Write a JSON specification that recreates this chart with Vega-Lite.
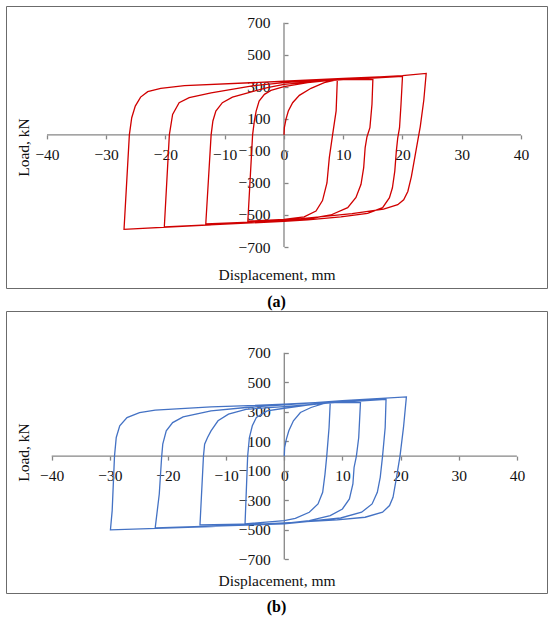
{
  "$schema": "https://vega.github.io/schema/vega-lite/v6.json",
  "padding": {"left": 5, "top": 5, "right": 4, "bottom": 4},
  "spacing": 23,
  "bounds": "flush",
  "config": {
    "font": "Liberation Serif",
    "view": {"stroke": "#6b6b6b", "strokeWidth": 1},
    "axis": {
      "grid": false,
      "domain": false,
      "labelFont": "Liberation Serif",
      "labelFontSize": 15.5,
      "labelColor": "#111111",
      "labelOverlap": false,
      "labelFlush": false,
      "titleFont": "Liberation Serif",
      "titleFontSize": 15.5,
      "titleFontWeight": "normal",
      "titleColor": "#111111",
      "tickColor": "#868686",
      "tickWidth": 1.3
    },
    "title": {"font": "Liberation Serif", "color": "#000000"}
  },
  "datasets": {
    "one": [{}],
    "a": [
      {"x": 0, "y": 0}, {"x": 0.06, "y": 45}, {"x": 0.34, "y": 98}, {"x": 0.73, "y": 149}, {"x": 1.46, "y": 201}, {"x": 2.59, "y": 247}, {"x": 4.56, "y": 291}, {"x": 6.8, "y": 326}, {"x": 9.0, "y": 345},
      {"x": 8.8, "y": 150}, {"x": 8.2, "y": 0}, {"x": 7.65, "y": -142}, {"x": 7.25, "y": -300}, {"x": 6.5, "y": -410}, {"x": 5.4, "y": -475}, {"x": 3.4, "y": -512}, {"x": 0, "y": -528}, {"x": -6.1, "y": -538},
      {"x": -5.3, "y": 0}, {"x": -5.0, "y": 87}, {"x": -4.7, "y": 149}, {"x": -4.2, "y": 211}, {"x": -3.3, "y": 253}, {"x": -2.2, "y": 278}, {"x": 0, "y": 302}, {"x": 4.0, "y": 326}, {"x": 9.0, "y": 345}, {"x": 15.0, "y": 345},
      {"x": 14.85, "y": 191}, {"x": 14.5, "y": 45}, {"x": 14.0, "y": -13}, {"x": 13.7, "y": -79}, {"x": 13.45, "y": -204}, {"x": 13.0, "y": -308}, {"x": 12.15, "y": -391}, {"x": 10.75, "y": -454}, {"x": 7.9, "y": -500}, {"x": 4.0, "y": -525}, {"x": 0, "y": -537}, {"x": -13.2, "y": -555},
      {"x": -12.3, "y": 0}, {"x": -12.0, "y": 87}, {"x": -11.5, "y": 149}, {"x": -10.4, "y": 201}, {"x": -8.7, "y": 236}, {"x": -6.1, "y": 263}, {"x": -2.8, "y": 295}, {"x": 0, "y": 315}, {"x": 5, "y": 333}, {"x": 10, "y": 345}, {"x": 15, "y": 355}, {"x": 20, "y": 365},
      {"x": 19.75, "y": 191}, {"x": 19.5, "y": 45}, {"x": 19.2, "y": -18}, {"x": 18.96, "y": -101}, {"x": 18.7, "y": -226}, {"x": 18.3, "y": -330}, {"x": 17.8, "y": -392}, {"x": 16.65, "y": -454}, {"x": 14.1, "y": -490}, {"x": 9.6, "y": -512}, {"x": 4.0, "y": -530}, {"x": 0, "y": -540}, {"x": -20.2, "y": -575},
      {"x": -19.35, "y": 0}, {"x": -18.8, "y": 128}, {"x": -17.7, "y": 201}, {"x": -16.0, "y": 232}, {"x": -12.3, "y": 263}, {"x": -5.6, "y": 305}, {"x": 0, "y": 326}, {"x": 10, "y": 350}, {"x": 20, "y": 370}, {"x": 24, "y": 384},
      {"x": 23.6, "y": 218}, {"x": 23.0, "y": 52}, {"x": 22.6, "y": -31}, {"x": 22.1, "y": -135}, {"x": 21.5, "y": -260}, {"x": 20.9, "y": -353}, {"x": 20.2, "y": -405}, {"x": 19.2, "y": -436}, {"x": 16.8, "y": -463}, {"x": 11.5, "y": -492}, {"x": 0, "y": -534}, {"x": -12.2, "y": -561}, {"x": -27, "y": -590},
      {"x": -26.1, "y": 0}, {"x": -25.7, "y": 107}, {"x": -25.1, "y": 180}, {"x": -24.2, "y": 236}, {"x": -23.0, "y": 270}, {"x": -20.8, "y": 291}, {"x": -16.8, "y": 307}, {"x": 0, "y": 335}, {"x": 10, "y": 352}, {"x": 20, "y": 368}
    ],
    "b": [
      {"x": 0, "y": 0}, {"x": 0.06, "y": 59}, {"x": 0.36, "y": 115}, {"x": 0.78, "y": 171}, {"x": 1.57, "y": 239}, {"x": 2.77, "y": 295}, {"x": 4.6, "y": 329}, {"x": 6.7, "y": 356}, {"x": 7.9, "y": 362},
      {"x": 7.7, "y": 194}, {"x": 7.3, "y": 0}, {"x": 7.0, "y": -122}, {"x": 6.6, "y": -245}, {"x": 5.8, "y": -324}, {"x": 4.3, "y": -380}, {"x": 1.9, "y": -421}, {"x": 0, "y": -437}, {"x": -6.75, "y": -459},
      {"x": -6.3, "y": 0}, {"x": -6.0, "y": 126}, {"x": -5.5, "y": 205}, {"x": -4.8, "y": 261}, {"x": -2.95, "y": 306}, {"x": 0, "y": 324}, {"x": 4, "y": 345}, {"x": 7.9, "y": 362}, {"x": 13.1, "y": 362},
      {"x": 12.8, "y": 126}, {"x": 12.4, "y": 0}, {"x": 12.0, "y": -77}, {"x": 11.8, "y": -189}, {"x": 11.2, "y": -290}, {"x": 10.0, "y": -358}, {"x": 7.9, "y": -403}, {"x": 4.3, "y": -437}, {"x": 0, "y": -455}, {"x": -14.5, "y": -466},
      {"x": -13.9, "y": 0}, {"x": -13.7, "y": 81}, {"x": -13.2, "y": 126}, {"x": -12.6, "y": 171}, {"x": -11.4, "y": 239}, {"x": -9.6, "y": 284}, {"x": -6.6, "y": 317}, {"x": 0, "y": 335}, {"x": 8, "y": 360}, {"x": 17.5, "y": 385},
      {"x": 17.35, "y": 194}, {"x": 16.9, "y": 0}, {"x": 16.5, "y": -144}, {"x": 16.0, "y": -245}, {"x": 15.1, "y": -324}, {"x": 13.3, "y": -380}, {"x": 9.7, "y": -419}, {"x": 4.3, "y": -441}, {"x": 0, "y": -459}, {"x": -22.2, "y": -486},
      {"x": -21.5, "y": -257}, {"x": -21.1, "y": -9}, {"x": -20.9, "y": 81}, {"x": -20.3, "y": 171}, {"x": -19.2, "y": 227}, {"x": -17.4, "y": 266}, {"x": -12.6, "y": 306}, {"x": -6.6, "y": 329}, {"x": 0, "y": 347}, {"x": 10, "y": 375}, {"x": 21.0, "y": 401},
      {"x": 20.5, "y": 194}, {"x": 19.9, "y": 0}, {"x": 19.3, "y": -144}, {"x": 18.7, "y": -279}, {"x": 18.1, "y": -335}, {"x": 16.9, "y": -380}, {"x": 13.9, "y": -414}, {"x": 9.1, "y": -432}, {"x": 0, "y": -452}, {"x": -12.6, "y": -477}, {"x": -29.9, "y": -500},
      {"x": -29.6, "y": -369}, {"x": -29.2, "y": 0}, {"x": -28.9, "y": 126}, {"x": -28.3, "y": 205}, {"x": -27.05, "y": 261}, {"x": -24.9, "y": 295}, {"x": -22.2, "y": 311}, {"x": -12.6, "y": 333}, {"x": 0, "y": 351}, {"x": 17.5, "y": 385}
    ]
  },
  "vconcat": [
    {
      "width": 541,
      "height": 282,
      "title": {"text": "(a)", "orient": "bottom", "frame": "group", "anchor": "middle", "offset": 14, "baseline": "middle", "font": "Liberation Serif", "fontSize": 16, "fontWeight": "bold"},
      "layer": [
        {
          "data": {"name": "one"},
          "mark": {"type": "rule", "color": "#868686", "strokeWidth": 1.3},
          "encoding": {
            "x": {"datum": -40, "type": "quantitative", "scale": {"domain": [-46.92, 44.39], "nice": false, "zero": false}},
            "x2": {"datum": 40},
            "y": {"datum": 0, "type": "quantitative", "scale": {"domain": [-955.7, 804.6], "nice": false, "zero": false}}
          }
        },
        {
          "data": {"name": "one"},
          "mark": {"type": "rule", "color": "#868686", "strokeWidth": 1.3},
          "encoding": {
            "x": {"datum": 0, "type": "quantitative", "scale": {"domain": [-46.92, 44.39], "nice": false, "zero": false}},
            "y": {"datum": -700, "type": "quantitative", "scale": {"domain": [-955.7, 804.6], "nice": false, "zero": false}},
            "y2": {"datum": 700}
          }
        },
        {
          "data": {"name": "a"},
          "mark": {"type": "line", "color": "#D00000", "strokeWidth": 1.3},
          "encoding": {
            "x": {
              "field": "x", "type": "quantitative",
              "scale": {"domain": [-46.92, 44.39], "nice": false, "zero": false},
              "axis": {"orient": "bottom", "offset": -153.1, "values": [-40, -30, -20, -10, 0, 10, 20, 30, 40], "tickSize": 4, "labelPadding": 9, "title": "Displacement, mm", "titleY": 139.4, "titleBaseline": "middle"}
            },
            "y": {
              "field": "y", "type": "quantitative",
              "scale": {"domain": [-955.7, 804.6], "nice": false, "zero": false},
              "axis": {"orient": "left", "offset": -278, "values": [-700, -500, -300, -100, 100, 300, 500, 700], "tickSize": -4, "labelPadding": 18, "title": "Load, kN", "titleX": -260.3, "titleAngle": -90, "titleBaseline": "middle", "titleAlign": "center"}
            },
            "order": {"value": null}
          }
        }
      ]
    },
    {
      "width": 541,
      "height": 282,
      "title": {"text": "(b)", "orient": "bottom", "frame": "group", "anchor": "middle", "offset": 14, "baseline": "middle", "font": "Liberation Serif", "fontSize": 16, "fontWeight": "bold"},
      "layer": [
        {
          "data": {"name": "one"},
          "mark": {"type": "rule", "color": "#868686", "strokeWidth": 1.3},
          "encoding": {
            "x": {"datum": -40, "type": "quantitative", "scale": {"domain": [-47.86, 45.18], "nice": false, "zero": false}},
            "x2": {"datum": 40},
            "y": {"datum": 0, "type": "quantitative", "scale": {"domain": [-926.9, 982.4], "nice": false, "zero": false}}
          }
        },
        {
          "data": {"name": "one"},
          "mark": {"type": "rule", "color": "#868686", "strokeWidth": 1.3},
          "encoding": {
            "x": {"datum": 0, "type": "quantitative", "scale": {"domain": [-47.86, 45.18], "nice": false, "zero": false}},
            "y": {"datum": -700, "type": "quantitative", "scale": {"domain": [-926.9, 982.4], "nice": false, "zero": false}},
            "y2": {"datum": 700}
          }
        },
        {
          "data": {"name": "b"},
          "mark": {"type": "line", "color": "#4472C4", "strokeWidth": 1.3},
          "encoding": {
            "x": {
              "field": "x", "type": "quantitative",
              "scale": {"domain": [-47.86, 45.18], "nice": false, "zero": false},
              "axis": {"orient": "bottom", "offset": -136.9, "values": [-40, -30, -20, -10, 0, 10, 20, 30, 40], "tickSize": 4, "labelPadding": 8, "title": "Displacement, mm", "titleY": 124.2, "titleBaseline": "middle"}
            },
            "y": {
              "field": "y", "type": "quantitative",
              "scale": {"domain": [-926.9, 982.4], "nice": false, "zero": false},
              "axis": {"orient": "left", "offset": -278.3, "values": [-700, -500, -300, -100, 100, 300, 500, 700], "tickSize": -4, "labelPadding": 18, "title": "Load, kN", "titleX": -260.5, "titleAngle": -90, "titleBaseline": "middle", "titleAlign": "center"}
            },
            "order": {"value": null}
          }
        }
      ]
    }
  ]
}
